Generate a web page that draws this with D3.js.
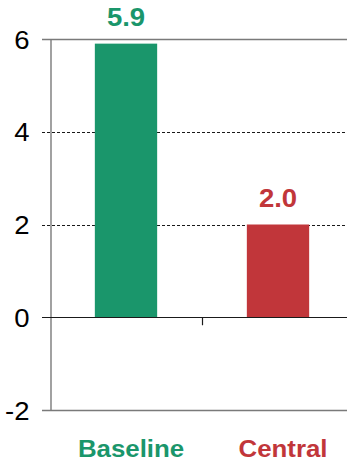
<!DOCTYPE html>
<html>
<head>
<meta charset="utf-8">
<script src="https://cdn.jsdelivr.net/npm/d3@7"></script>
<style>
  html, body { margin: 0; padding: 0; background: #fff; }
  svg { display: block; }
  text { font-family: "Liberation Sans", Arial, Helvetica, sans-serif; }
</style>
</head>
<body>
<svg id="chart" width="347" height="461"></svg>
<script>
// Scenario results
const categories = ["Baseline", "Central"];
const values = [5.9, 2.0];
const colors = ["#1a966b", "#c1363a"];
const yTicks = [-2, 0, 2, 4, 6];

const W = 347, H = 461;
const margin = { left: 50, right: -7, top: 39, bottom: 51 };
const svg = d3.select("#chart");

const x = d3.scaleBand()
  .domain(categories)
  .range([margin.left, W - margin.right])
  .paddingInner(0.59)
  .paddingOuter(0.295);

const y = d3.scaleLinear()
  .domain([-2, 6])
  .range([H - margin.bottom, margin.top]);

const stretch = 1.1;
const lineStart = margin.left - 8;
const lineEnd = W - margin.right;

// Horizontal reference lines
yTicks.forEach(t => {
  const edge = t === -2 || t === 6;
  const zero = t === 0;
  svg.append("line")
    .attr("x1", lineStart).attr("x2", lineEnd)
    .attr("y1", Math.round(y(t)) + 0.5).attr("y2", Math.round(y(t)) + 0.5)
    .attr("stroke", edge ? "#7a7a7a" : "#1a1a1a")
    .attr("stroke-width", edge ? 1.4 : 1)
    .attr("stroke-dasharray", edge || zero ? null : "3,2");
});

// Left axis with tick labels (plain hyphen for negatives)
const yAxis = d3.axisLeft(y)
  .tickValues(yTicks)
  .tickFormat(d => String(d))
  .tickSize(0)
  .tickPadding(0);
const gy = svg.append("g")
  .attr("transform", `translate(${margin.left + 0.5},0)`)
  .call(yAxis);
gy.select(".domain").attr("stroke", "#7a7a7a").attr("stroke-width", 1.4);
gy.selectAll(".tick text")
  .attr("x", 0)
  .attr("text-anchor", "end")
  .attr("dy", "0.36em")
  .attr("fill", "#000")
  .style("font-size", "25px")
  .attr("transform", `translate(-21,0) scale(${stretch},1)`);

// Bars
svg.append("g").selectAll("rect")
  .data(categories)
  .join("rect")
  .attr("x", d => x(d))
  .attr("width", x.bandwidth())
  .attr("y", (d, i) => y(Math.max(0, values[i])))
  .attr("height", (d, i) => Math.abs(y(values[i]) - y(0)))
  .attr("fill", (d, i) => colors[i]);

// Separator tick between categories
const mid = (x(categories[0]) + x.bandwidth() + x(categories[1])) / 2;
svg.append("line")
  .attr("x1", Math.round(mid) + 0.5).attr("x2", Math.round(mid) + 0.5)
  .attr("y1", y(0)).attr("y2", y(0) + 8)
  .attr("stroke", "#1a1a1a").attr("stroke-width", 1.2);

// Zero line over the bar bases
svg.append("line")
  .attr("x1", lineStart).attr("x2", lineEnd)
  .attr("y1", Math.round(y(0)) + 0.5).attr("y2", Math.round(y(0)) + 0.5)
  .attr("stroke", "#1a1a1a").attr("stroke-width", 1);

// Value labels
svg.append("g").selectAll("text")
  .data(categories)
  .join("text")
  .attr("text-anchor", "middle")
  .attr("transform", (d, i) => `translate(${x(d) + x.bandwidth() / 2},${y(values[i]) - 18}) scale(${stretch},1)`)
  .attr("fill", (d, i) => colors[i])
  .style("font-size", "25px")
  .style("font-weight", "bold")
  .text((d, i) => d3.format(".1f")(values[i]));

// Category labels
svg.append("g").selectAll("text")
  .data(categories)
  .join("text")
  .attr("text-anchor", "middle")
  .attr("transform", d => `translate(${x(d) + x.bandwidth() / 2 + 5},${H - 4.5}) scale(${stretch},1)`)
  .attr("fill", (d, i) => colors[i])
  .style("font-size", "23.5px")
  .style("font-weight", "bold")
  .text(d => d);
</script>
</body>
</html>
